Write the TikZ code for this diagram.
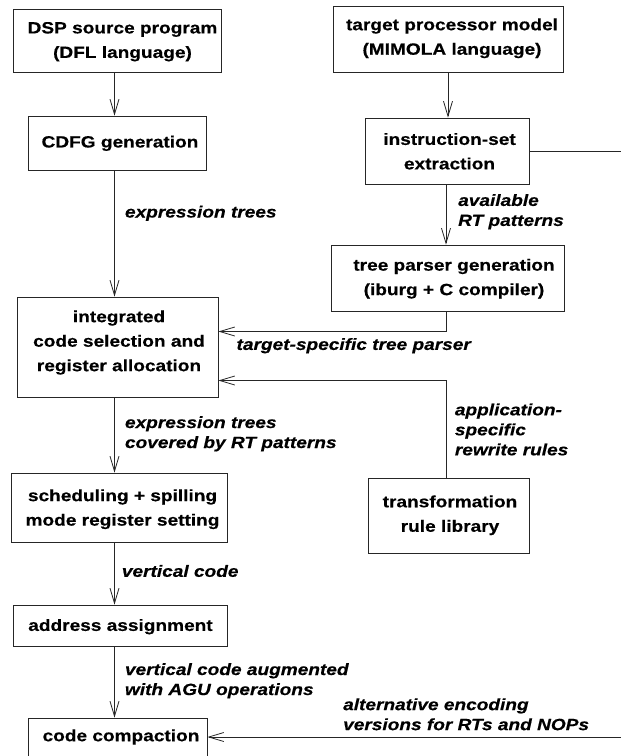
\documentclass[tikz,border=0pt]{standalone}
\usepackage{fontspec}
\newfontfamily\diafont{Liberation Sans}[FakeStretch=1.17,
  BoldFeatures={FakeBold=0.4}, BoldItalicFeatures={FakeBold=0.4}]
\usetikzlibrary{arrows.meta,calc}

\tikzset{
  box/.style={draw=black!85, line width=0.8pt, inner sep=0pt},
  boxtext/.style={font=\diafont\bfseries\fontsize{16.3}{24.5}\selectfont, align=center, inner sep=0pt},
  flowlabel/.style={font=\diafont\bfseries\itshape\fontsize{16.3}{20}\selectfont, align=left, anchor=west, inner sep=0pt},
  flow/.style={draw=black!85, line width=0.8pt, -{Straight Barb[length=15pt,width=9pt]}},
  plain/.style={draw=black!85, line width=0.8pt},
}

\begin{document}
\begin{tikzpicture}[x=1pt, y=-1pt]
  \useasboundingbox (0,0) rectangle (621,756);
  \clip (0,0) rectangle (621,756);

  % column guides for the vertical connectors
  \coordinate (lc) at (114.5,0);
  \coordinate (rc1) at (448,0);
  \coordinate (rc2) at (446,0);
  \coordinate (y1) at (0,331.5);
  \coordinate (y2) at (0,380.5);
  \coordinate (exit) at (621,151);
  \coordinate (entry) at (621,737);

  % left column
  \node[box, minimum width=208pt, minimum height=63pt] (dsp) at (117,40.5) {};
  \node[boxtext] (dsp-t) at (122.5,41.7) {DSP source program\\(DFL language)};

  \node[box, minimum width=178pt, minimum height=54pt] (cdfg) at (117,143) {};
  \node[boxtext] (cdfg-t) at (120,143.3) {CDFG generation};

  \node[box, minimum width=201pt, minimum height=100pt] (icsra) at (117.5,347) {};
  \node[boxtext] (icsra-t) at (119,342.5) {integrated\\code selection and\\register allocation};

  \node[box, minimum width=216pt, minimum height=69pt] (sched) at (119,507.5) {};
  \node[boxtext] (sched-t) at (122.5,509.2) {scheduling + spilling\\mode register setting};

  \node[box, minimum width=214pt, minimum height=41pt] (addr) at (120,625.5) {};
  \node[boxtext] (addr-t) at (120.5,626.7) {address assignment};

  \node[box, minimum width=179pt, minimum height=72pt] (cc) at (117.5,754) {};
  \node[boxtext] (cc-t) at (121,737) {code compaction};

  % right column
  \node[box, minimum width=230pt, minimum height=66pt] (tpm) at (448,39) {};
  \node[boxtext] (tpm-t) at (452,38.3) {target processor model\\(MIMOLA language)};

  \node[box, minimum width=164pt, minimum height=66pt] (ise) at (447,151) {};
  \node[boxtext] (ise-t) at (449.5,151.3) {instruction-set\\extraction};

  \node[box, minimum width=233pt, minimum height=66pt] (tpg) at (447.5,278) {};
  \node[boxtext] (tpg-t) at (454,278.7) {tree parser generation\\(iburg + C compiler)};

  \node[box, minimum width=161pt, minimum height=75pt] (trl) at (448.5,515.5) {};
  \node[boxtext] (trl-t) at (450,515.3) {transformation\\rule library};

  % connectors
  \draw[flow] (dsp.south -| lc) -- (cdfg.north -| lc);
  \draw[flow] (cdfg.south -| lc) -- (icsra.north -| lc);
  \draw[flow] (icsra.south -| lc) -- (sched.north -| lc);
  \draw[flow] (sched.south -| lc) -- (addr.north -| lc);
  \draw[flow] (addr.south -| lc) -- (cc.north -| lc);

  \draw[flow] (tpm.south -| rc1) -- (ise.north -| rc1);
  \draw[flow] (ise.south -| rc2) -- (tpg.north -| rc2);
  \draw[plain] (ise.east |- exit) -- (exit);
  \draw[flow] (tpg.south -| rc2) |- (icsra.east |- y1);
  \draw[flow] (trl.north -| rc2) |- (icsra.east |- y2);
  \draw[flow] (entry) -- (cc.east |- entry);

  % connector labels
  \node[flowlabel] (l-expr) at (124.8,213.3) {expression trees};
  \node[flowlabel] (l-avail) at (458,211.7) {available\\RT patterns};
  \node[flowlabel] (l-parser) at (236.4,345.7) {target-specific tree parser};
  \node[flowlabel] (l-rules) at (454.7,429.5) {application-\\specific\\rewrite rules};
  \node[flowlabel] (l-covered) at (124.8,433.8) {expression trees\\covered by RT patterns};
  \node[flowlabel] (l-vert) at (121.7,571) {vertical code};
  \node[flowlabel] (l-agu) at (124.8,680.8) {vertical code augmented\\with AGU operations};
  \node[flowlabel] (l-alt) at (343,714.3) {alternative encoding\\versions for RTs and NOPs};
\end{tikzpicture}
\end{document}
